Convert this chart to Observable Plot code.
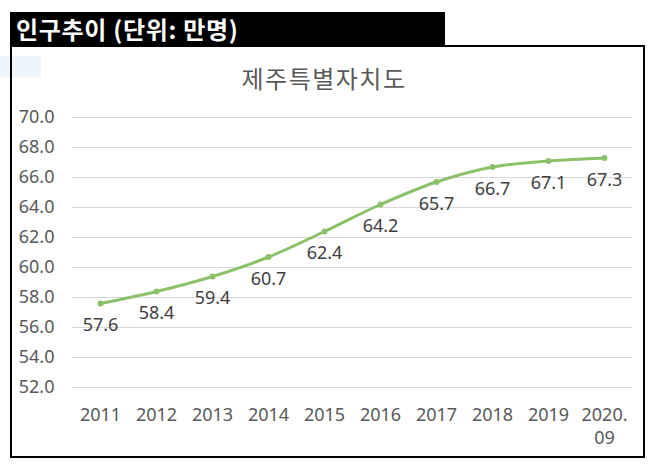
<!DOCTYPE html>
<html>
<head>
<meta charset="utf-8">
<script src="https://cdn.jsdelivr.net/npm/d3@7"></script>
<script src="https://cdn.jsdelivr.net/npm/@observablehq/plot@0.6"></script>
<style>
  html, body { margin: 0; padding: 0; background: #fff; width: 648px; height: 467px; overflow: hidden; }
  #header { position: absolute; left: 10px; top: 12px; width: 435px; height: 35px; background: #000; color: #fff;
    font-family: "Noto Sans CJK KR", sans-serif; font-weight: bold; font-size: 24px; line-height: 33px; padding-left: 6px; box-sizing: border-box; z-index: 3; letter-spacing: 0.7px; }
  #frame { position: absolute; left: 10px; top: 45px; width: 635px; height: 413px; border: 2.5px solid #000; box-sizing: border-box; z-index: 2; }
  #blue { position: absolute; left: 0; top: 56px; width: 41px; height: 21px; background: #eef5fb; z-index: 1; }
  #title { position: absolute; left: 0; width: 648px; top: 60px; text-align: center; font-family: "Noto Sans CJK KR", sans-serif; font-size: 24px; color: #595959; letter-spacing: 1.5px; z-index: 4; }
  #chart { position: absolute; left: 0; top: 0; z-index: 4; }
</style>
</head>
<body>
<div id="blue"></div>
<div id="frame"></div>
<div id="header">인구추이 (단위: 만명)</div>
<div id="title">제주특별자치도</div>
<div id="chart"></div>
<script>
const years = ["2011", "2012", "2013", "2014", "2015", "2016", "2017", "2018", "2019", "2020.09"];
const population = [57.6, 58.4, 59.4, 60.7, 62.4, 64.2, 65.7, 66.7, 67.1, 67.3];
const yTicks = [52, 54, 56, 58, 60, 62, 64, 66, 68, 70];

const data = years.map((y, i) => ({year: y, value: population[i]}));
const green = "#8cc169";

const chart = Plot.plot({
  width: 648,
  height: 467,
  marginLeft: 72,
  marginRight: 16,
  marginTop: 117,
  marginBottom: 80,
  style: {fontFamily: "'Noto Sans', sans-serif", fontSize: "18px", color: "#595959", background: "transparent"},
  x: {type: "point", domain: years, padding: 0.5, label: null},
  y: {domain: [52, 70], label: null},
  marks: [
    Plot.gridY(yTicks, {stroke: "#d9d9d9", strokeOpacity: 1, strokeWidth: 1}),
    Plot.axisY(yTicks, {tickSize: 0, tickPadding: 18, tickFormat: d => d.toFixed(1), fill: "#595959", label: null, fontSize: 18}),
    Plot.axisX(years, {tickSize: 0, tickPadding: 16, tickFormat: d => d === "2020.09" ? "2020.\n09" : d, fill: "#595959", label: null, lineHeight: 1.33, fontSize: 18}),
    Plot.line(data, {x: "year", y: "value", stroke: green, strokeWidth: 3, curve: "catmull-rom"}),
    Plot.dot(data, {x: "year", y: "value", fill: green, r: 3}),
    Plot.text(data, {x: "year", y: "value", text: d => d.value.toFixed(1), dy: 22, fill: "#404040", fontSize: 18})
  ]
});
document.getElementById("chart").appendChild(chart);
</script>
</body>
</html>
